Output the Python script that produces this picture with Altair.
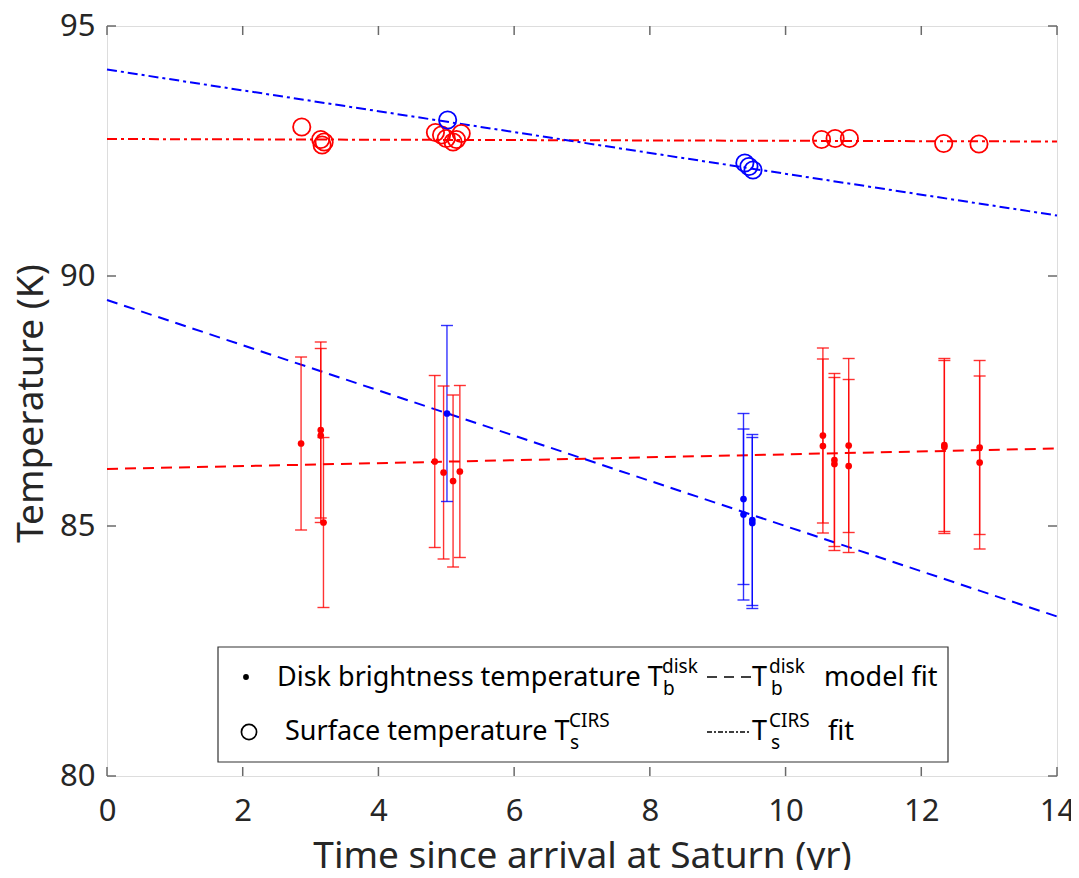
import altair as alt
import pandas as pd

# ---------------- data ----------------
# Disk brightness temperature points (with 1-sigma error bars)
tb_time = [2.86, 3.15, 3.15, 3.19, 4.83, 4.96, 5.10, 5.20, 10.55, 10.55, 10.72, 10.72,
           10.93, 10.93, 12.34, 12.34, 12.86, 12.86, 5.01, 9.38, 9.38, 9.51, 9.51]
tb_val = [86.65, 86.92, 86.81, 85.07, 86.29, 86.07, 85.90, 86.09, 86.81, 86.60, 86.32, 86.24,
          86.61, 86.20, 86.62, 86.58, 86.57, 86.27, 87.25, 85.54, 85.23, 85.12, 85.06]
tb_err = [1.73, 1.76, 1.74, 1.70, 1.72, 1.73, 1.72, 1.72, 1.75, 1.74, 1.73, 1.73,
          1.74, 1.73, 1.73, 1.73, 1.74, 1.73, 1.76, 1.71, 1.71, 1.71, 1.71]
tb_group = ["red"] * 18 + ["blue"] * 5

# Surface temperature (CIRS) points
ts_time = [2.87, 3.15, 3.17, 3.20, 4.84, 4.93, 5.00, 5.10, 5.15, 5.22, 10.53, 10.73,
           10.94, 12.33, 12.85, 5.02, 9.40, 9.46, 9.52]
ts_val = [92.98, 92.73, 92.62, 92.68, 92.87, 92.82, 92.75, 92.68, 92.73, 92.85, 92.73, 92.75,
          92.75, 92.65, 92.64, 93.12, 92.26, 92.19, 92.12]
ts_group = ["red"] * 15 + ["blue"] * 4

# Fit lines (end points)
fit_time = [0, 14]
tb_fit_red = [86.14, 86.55]
tb_fit_blue = [89.52, 83.19]
ts_fit_red = [92.74, 92.69]
ts_fit_blue = [94.13, 91.21]

x_ticks = [0, 2, 4, 6, 8, 10, 12, 14]
y_ticks = [80, 85, 90, 95]

# ---------------- tables ----------------
tb = pd.DataFrame({"t": tb_time, "v": tb_val, "e": tb_err, "g": tb_group})
tb["lo"] = tb["v"] - tb["e"]
tb["hi"] = tb["v"] + tb["e"]
ts = pd.DataFrame({"t": ts_time, "v": ts_val, "g": ts_group})
fit_tb = pd.DataFrame({"t": fit_time * 2, "v": tb_fit_red + tb_fit_blue,
                       "g": ["red", "red", "blue", "blue"]})
fit_ts = pd.DataFrame({"t": fit_time * 2, "v": ts_fit_red + ts_fit_blue,
                       "g": ["red", "red", "blue", "blue"]})
xt = pd.DataFrame({"t": x_ticks})
yt = pd.DataFrame({"v": y_ticks})
one = pd.DataFrame({"a": [0]})

FONT = "Noto Sans"
TXT = "#262626"
BOX = "#6a6a6a"
W, H = 950, 750

xs = alt.Scale(domain=[0, 14], nice=False, zero=False)
ys = alt.Scale(domain=[80, 95], nice=False, zero=False)
xaxis = alt.Axis(values=x_ticks, domain=False, ticks=False, grid=False, labelFlush=False,
                 labelFontSize=31, labelPadding=20, labelColor=TXT, labelFont=FONT,
                 title="Time since arrival at Saturn (yr)", titleFontSize=37,
                 titleFont=FONT, titleFontWeight="normal", titleColor=TXT,
                 titleBaseline="alphabetic", titleY=91)
yaxis = alt.Axis(values=y_ticks, domain=False, ticks=False, grid=False, labelFlush=False,
                 labelFontSize=31, labelPadding=12, labelColor=TXT, labelFont=FONT,
                 title="Temperature (K)", titleFontSize=37, titleFont=FONT,
                 titleFontWeight="normal", titleColor=TXT,
                 titleBaseline="alphabetic", titleX=-65, titleY=377, titleAngle=-90)


def X(field="t"):
    return alt.X(f"{field}:Q", scale=xs, axis=xaxis)


def Y(field="v"):
    return alt.Y(f"{field}:Q", scale=ys, axis=yaxis)


color = alt.Color("g:N", scale=alt.Scale(domain=["red", "blue"], range=["#ff0000", "#0000ff"]),
                  legend=None)

fit_dash = alt.Chart(fit_tb).mark_line(strokeWidth=2, strokeDash=[11, 7]).encode(
    x=X(), y=Y(), color=color, detail="g:N")
fit_dashdot = alt.Chart(fit_ts).mark_line(strokeWidth=2, strokeDash=[10, 4, 3, 4]).encode(
    x=X(), y=Y(), color=color, detail="g:N")

err = alt.Chart(tb).mark_rule(strokeWidth=1.4, opacity=0.8).encode(
    x=X(), y=Y("lo"), y2="hi:Q", color=color)
cap_lo = alt.Chart(tb).mark_tick(orient="horizontal", size=12, thickness=1.4, opacity=0.8).encode(
    x=X(), y=Y("lo"), color=color)
cap_hi = alt.Chart(tb).mark_tick(orient="horizontal", size=12, thickness=1.4, opacity=0.8).encode(
    x=X(), y=Y("hi"), color=color)
dots = alt.Chart(tb).mark_circle(size=45, opacity=1).encode(x=X(), y=Y(), color=color)
rings = alt.Chart(ts).mark_point(shape="circle", filled=False, size=300, strokeWidth=1.8,
                                 opacity=1).encode(x=X(), y=Y(), color=color)

# inward axis ticks on all four sides
tk = dict(color=BOX, strokeWidth=1.5)
t_bot = alt.Chart(xt).mark_rule(**tk).encode(x=X(), y=alt.value(H), y2=alt.value(H - 9))
t_top = alt.Chart(xt).mark_rule(**tk).encode(x=X(), y=alt.value(0), y2=alt.value(9))
t_left = alt.Chart(yt).mark_rule(**tk).encode(y=Y(), x=alt.value(0), x2=alt.value(9))
t_right = alt.Chart(yt).mark_rule(**tk).encode(y=Y(), x=alt.value(W), x2=alt.value(W - 9))

# ---------------- legend (drawn inside the plot) ----------------
LX0, LX1, LY0, LY1 = 111, 841, 621, 736
leg_box = alt.Chart(one).mark_rect(fill="white", stroke="#333333", strokeWidth=1.2).encode(
    x=alt.value(LX0), x2=alt.value(LX1), y=alt.value(LY0), y2=alt.value(LY1))

r1, r2 = 660, 714  # baselines of the two rows
FS, FSS = 27, 19


def txt(s, x, y, size=FS):
    return alt.Chart(one).mark_text(text=s, align="left", baseline="alphabetic",
                                    font=FONT, fontSize=size, color="black").encode(
        x=alt.value(x), y=alt.value(y))


leg_dot = alt.Chart(one).mark_circle(size=34, color="black", opacity=1).encode(
    x=alt.value(139), y=alt.value(r1 - 9))
leg_ring = alt.Chart(one).mark_point(shape="circle", filled=False, size=230, strokeWidth=1.7,
                                     color="black", opacity=1).encode(
    x=alt.value(142), y=alt.value(r2 - 8))
leg_dash = alt.Chart(one).mark_rule(color="black", strokeWidth=1.6, strokeDash=[10, 7]).encode(
    x=alt.value(600), x2=alt.value(644), y=alt.value(r1 - 9))
leg_dashdot = alt.Chart(one).mark_rule(color="black", strokeWidth=1.6, strokeDash=[5, 2, 2, 2]).encode(
    x=alt.value(600), x2=alt.value(643), y=alt.value(r2 - 8))

legend_parts = [
    leg_box, leg_dot, leg_ring, leg_dash, leg_dashdot,
    txt("Disk brightness temperature T", 170, r1),
    txt("disk", 555, r1 - 13, FSS), txt("b", 556, r1 + 9, FSS),
    txt("T", 645, r1),
    txt("disk", 662, r1 - 13, FSS), txt("b", 664, r1 + 9, FSS),
    txt("model fit", 717, r1),
    txt("Surface temperature T", 178, r2),
    txt("CIRS", 462, r2 - 13, FSS), txt("s", 463, r2 + 9, FSS),
    txt("T", 645, r2),
    txt("CIRS", 662, r2 - 13, FSS), txt("s", 664, r2 + 9, FSS),
    txt("fit", 721, r2),
]

chart = alt.layer(
    fit_dashdot, fit_dash, err, cap_lo, cap_hi, dots, rings,
    t_bot, t_top, t_left, t_right, *legend_parts
).properties(
    width=W, height=H,
    autosize=alt.AutoSizeParams(type="none"),
    padding={"left": 99, "top": 18, "right": 14, "bottom": 94},
).configure_view(stroke=BOX, strokeWidth=1.5).configure(background="white")

chart.save("out.html", embed_options={"renderer": "svg", "actions": False})
